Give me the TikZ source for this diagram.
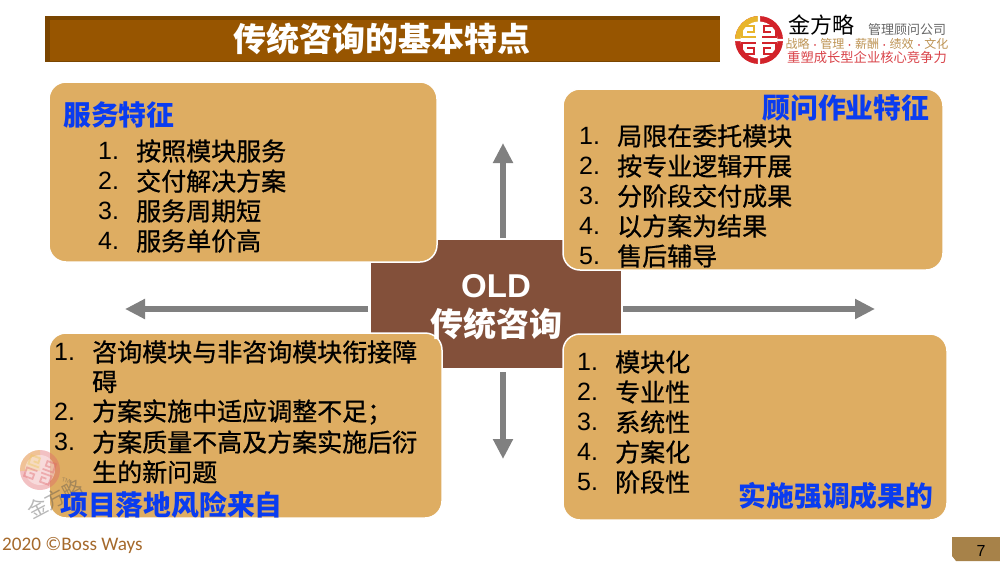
\documentclass[tikz,border=0pt]{standalone}
\usepackage{fontspec}
\setmainfont{Liberation Sans}
\newfontfamily\cjk{Noto Sans CJK SC}
\newfontfamily\cjkitem[FakeBold=0.8]{Noto Sans CJK SC}
\newfontfamily\cjkhead[FakeBold=0.5,BoldFont={Noto Sans CJK SC Bold}]{Noto Sans CJK SC}
\newfontfamily\footfont{Carlito}
\usetikzlibrary{arrows.meta,positioning}
\definecolor{boxfill}{HTML}{DEAD62}
\definecolor{corefill}{HTML}{83503A}
\definecolor{barfill}{HTML}{975500}
\definecolor{bardark}{HTML}{7A4500}
\definecolor{headblue}{HTML}{0A3CF0}
\definecolor{logored}{HTML}{D2232A}
\definecolor{logogold}{HTML}{E8B52C}
\definecolor{footbrown}{HTML}{A5692B}
\tikzset{
  infobox/.style={draw=white,line width=1.5pt,fill=boxfill,rounded corners=17pt,inner sep=0pt,outer sep=0pt,anchor=north west},
  head/.style={font=\cjk\bfseries\fontsize{27.8}{30}\selectfont,text=headblue,inner sep=0pt},
  item/.style={font=\cjkitem\fontsize{25}{28}\selectfont,anchor=west,inner sep=0pt},
  itemnum/.style={font=\fontsize{25}{28}\selectfont,anchor=west,inner sep=0pt},
  bigarrow/.style={draw=black!50,line width=6pt,-{Triangle[length=20pt,width=19pt]}},
}
\begin{document}
\begin{tikzpicture}[x=1pt,y=-1pt]
    \useasboundingbox (0,0) rectangle (1000,563);

    % title bar
    \node[fill=bardark,minimum width=675pt,minimum height=46pt,inner sep=0pt,outer sep=0pt] (bar) at (382.5,39) {};
    \fill[barfill] (50,20) rectangle (720,61);
    \node[font=\cjk\bfseries\fontsize{33}{35}\selectfont,text=white,inner sep=0pt] (title) at (382,39) {传统咨询的基本特点};

    % centre
    \node[fill=corefill,minimum width=250pt,minimum height=128pt,inner sep=0pt,outer sep=0pt] (core) at (496,304) {};

    % boxes
    \node[infobox,minimum width=388pt,minimum height=180pt] (service) at (49,82) {};
    \node[infobox,minimum width=380pt,minimum height=181pt] (consult) at (563,89) {};
    \node[infobox,minimum width=393pt,minimum height=185pt] (risk) at (49,333) {};
    \node[infobox,minimum width=384pt,minimum height=186pt] (result) at (563,334) {};

    \node[font=\bfseries\fontsize{33}{35}\selectfont,text=white,inner sep=0pt] (old) at (496,286) {OLD};
    \node[font=\cjk\bfseries\fontsize{33}{35}\selectfont,text=white,inner sep=0pt] (oldname) at (496,324) {传统咨询};

    % arrows
    \coordinate (uptip) at (503,143);
    \coordinate (downtip) at (503,459);
    \coordinate (lefttip) at (125,309);
    \coordinate (righttip) at (875,309);
    \draw[bigarrow,shorten <=2pt] (core.north -| uptip) -- (uptip);
    \draw[bigarrow,shorten <=4pt] (core.south -| downtip) -- (downtip);
    \draw[bigarrow,shorten <=3pt] (core.west |- lefttip) -- (lefttip);
    \draw[bigarrow,shorten <=2pt] (core.east |- righttip) -- (righttip);

    % watermark
    \begin{scope}[opacity=0.4]
      \fill[logored!70] (40,470) circle (20);
      \begin{scope}
        \clip (15,445) rectangle (40,470);
        \fill[logogold!80] (40,470) circle (20);
      \end{scope}
      \fill[white] (40,470) circle (15);
      \begin{scope}[rotate around={-20:(40,470)}]
      \foreach \sx/\sy/\col in {-1/-1/logogold!80, 1/-1/logored!70, -1/1/logored!70, 1/1/logored!70}
        \draw[\col,line width=1.8pt] (40+\sx*2,470+\sy*2) -- (40+\sx*13,470+\sy*2) -- (40+\sx*13,470+\sy*11) -- (40+\sx*4,470+\sy*11) -- (40+\sx*4,470+\sy*6) -- (40+\sx*9,470+\sy*6);
      \end{scope}
      \node[font=\cjk\fontsize{20}{22}\selectfont,text=black!70,rotate=28,inner sep=0pt] (mark) at (55,499) {金方略};
      \node[font=\fontsize{6}{7}\selectfont,text=black!70,rotate=-15,inner sep=0pt] (markTM) at (66,481) {TM};
    \end{scope}

    % headings
    \node[head,anchor=west] (servicehead) at (63,115) {服务特征};
    \node[head,anchor=east] (consulthead) at (929.5,108) {顾问作业特征};
    \node[head,anchor=west] (riskhead) at (60,505) {项目落地风险来自};
    \node[head,anchor=east] (resulthead) at (933.5,496) {实施强调成果的};

    % lists
    \foreach \y/\num/\name in {151/1/按照模块服务, 181/2/交付解决方案, 211/3/服务周期短, 241/4/服务单价高}
        {\node[itemnum] (sn\num) at (98,\y) {\num.};
         \node[item] (s\num) at (136,\y) {\name};}

    \foreach \y/\num/\name in {136/1/局限在委托模块, 166/2/按专业逻辑开展, 196/3/分阶段交付成果, 226/4/以方案为结果, 256/5/售后辅导}
        {\node[itemnum] (cn\num) at (579,\y) {\num.};
         \node[item] (c\num) at (617,\y) {\name};}

    \foreach \y/\num/\name in {362/1/模块化, 392/2/专业性, 422/3/系统性, 452/4/方案化, 482/5/阶段性}
        {\node[itemnum] (rn\num) at (577,\y) {\num.};
         \node[item] (r\num) at (615,\y) {\name};}

    \foreach \y/\num in {352/1, 412/2, 442/3}
        \node[itemnum] (kn\num) at (54,\y) {\num.};
    \foreach \y/\name in {352/咨询模块与非咨询模块衔接障, 382/碍, 412/方案实施中适应调整不足；, 442/方案质量不高及方案实施后衍, 472/生的新问题}
        \node[item] at (92,\y) {\name};

    % logo
    \fill[logored] (759,40) circle (24);
    \begin{scope}
      \clip (730,10) rectangle (759,40);
      \fill[logogold] (759,40) circle (24);
    \end{scope}
    \fill[white] (759,40) circle (18.5);
    \fill[white] (757.8,14) rectangle (760.2,66) (733,38.8) rectangle (785,41.2);
    \foreach \sx/\sy/\col in {-1/-1/logogold, 1/-1/logored, -1/1/logored, 1/1/logored}
        \draw[\col,line width=2.3pt] (759+\sx*3,40+\sy*3) -- (759+\sx*17,40+\sy*3) -- (759+\sx*17,40+\sy*14) -- (759+\sx*5,40+\sy*14) -- (759+\sx*5,40+\sy*8) -- (759+\sx*12,40+\sy*8);

    \node[font=\cjk\fontsize{22}{24}\selectfont,inner sep=0pt] (brand) at (821,25) {金方略};
    \node[font=\cjk\fontsize{13}{15}\selectfont,text=black!60,inner sep=0pt] (firm) at (907,30) {管理顾问公司};
    \node[font=\cjk\fontsize{12}{15}\selectfont,text=boxfill!85!black,inner sep=0pt] (motto) at (867,44) {战略\textcolor{logored}{\footnotesize\,•\,}管理\textcolor{logored}{\footnotesize\,•\,}薪酬\textcolor{logored}{\footnotesize\,•\,}绩效\textcolor{logored}{\footnotesize\,•\,}文化};
    \node[font=\cjk\fontsize{13.3}{15}\selectfont,text=logored!85!white,inner sep=0pt] (slogan) at (867,57) {重塑成长型企业核心竞争力};

    % footer
    \node[font=\footfont\fontsize{19.2}{21}\selectfont,text=footbrown,anchor=west,inner sep=0pt] (foot) at (2,545) {2020 ©Boss Ways};
    \fill[boxfill!75!black] (952,537) -- (1000,537) -- (1000,561) -- (956,561) -- (952,556) -- cycle;
    \node[font=\fontsize{16}{18}\selectfont,inner sep=0pt] (page) at (981,551) {7};
\end{tikzpicture}
\end{document}
